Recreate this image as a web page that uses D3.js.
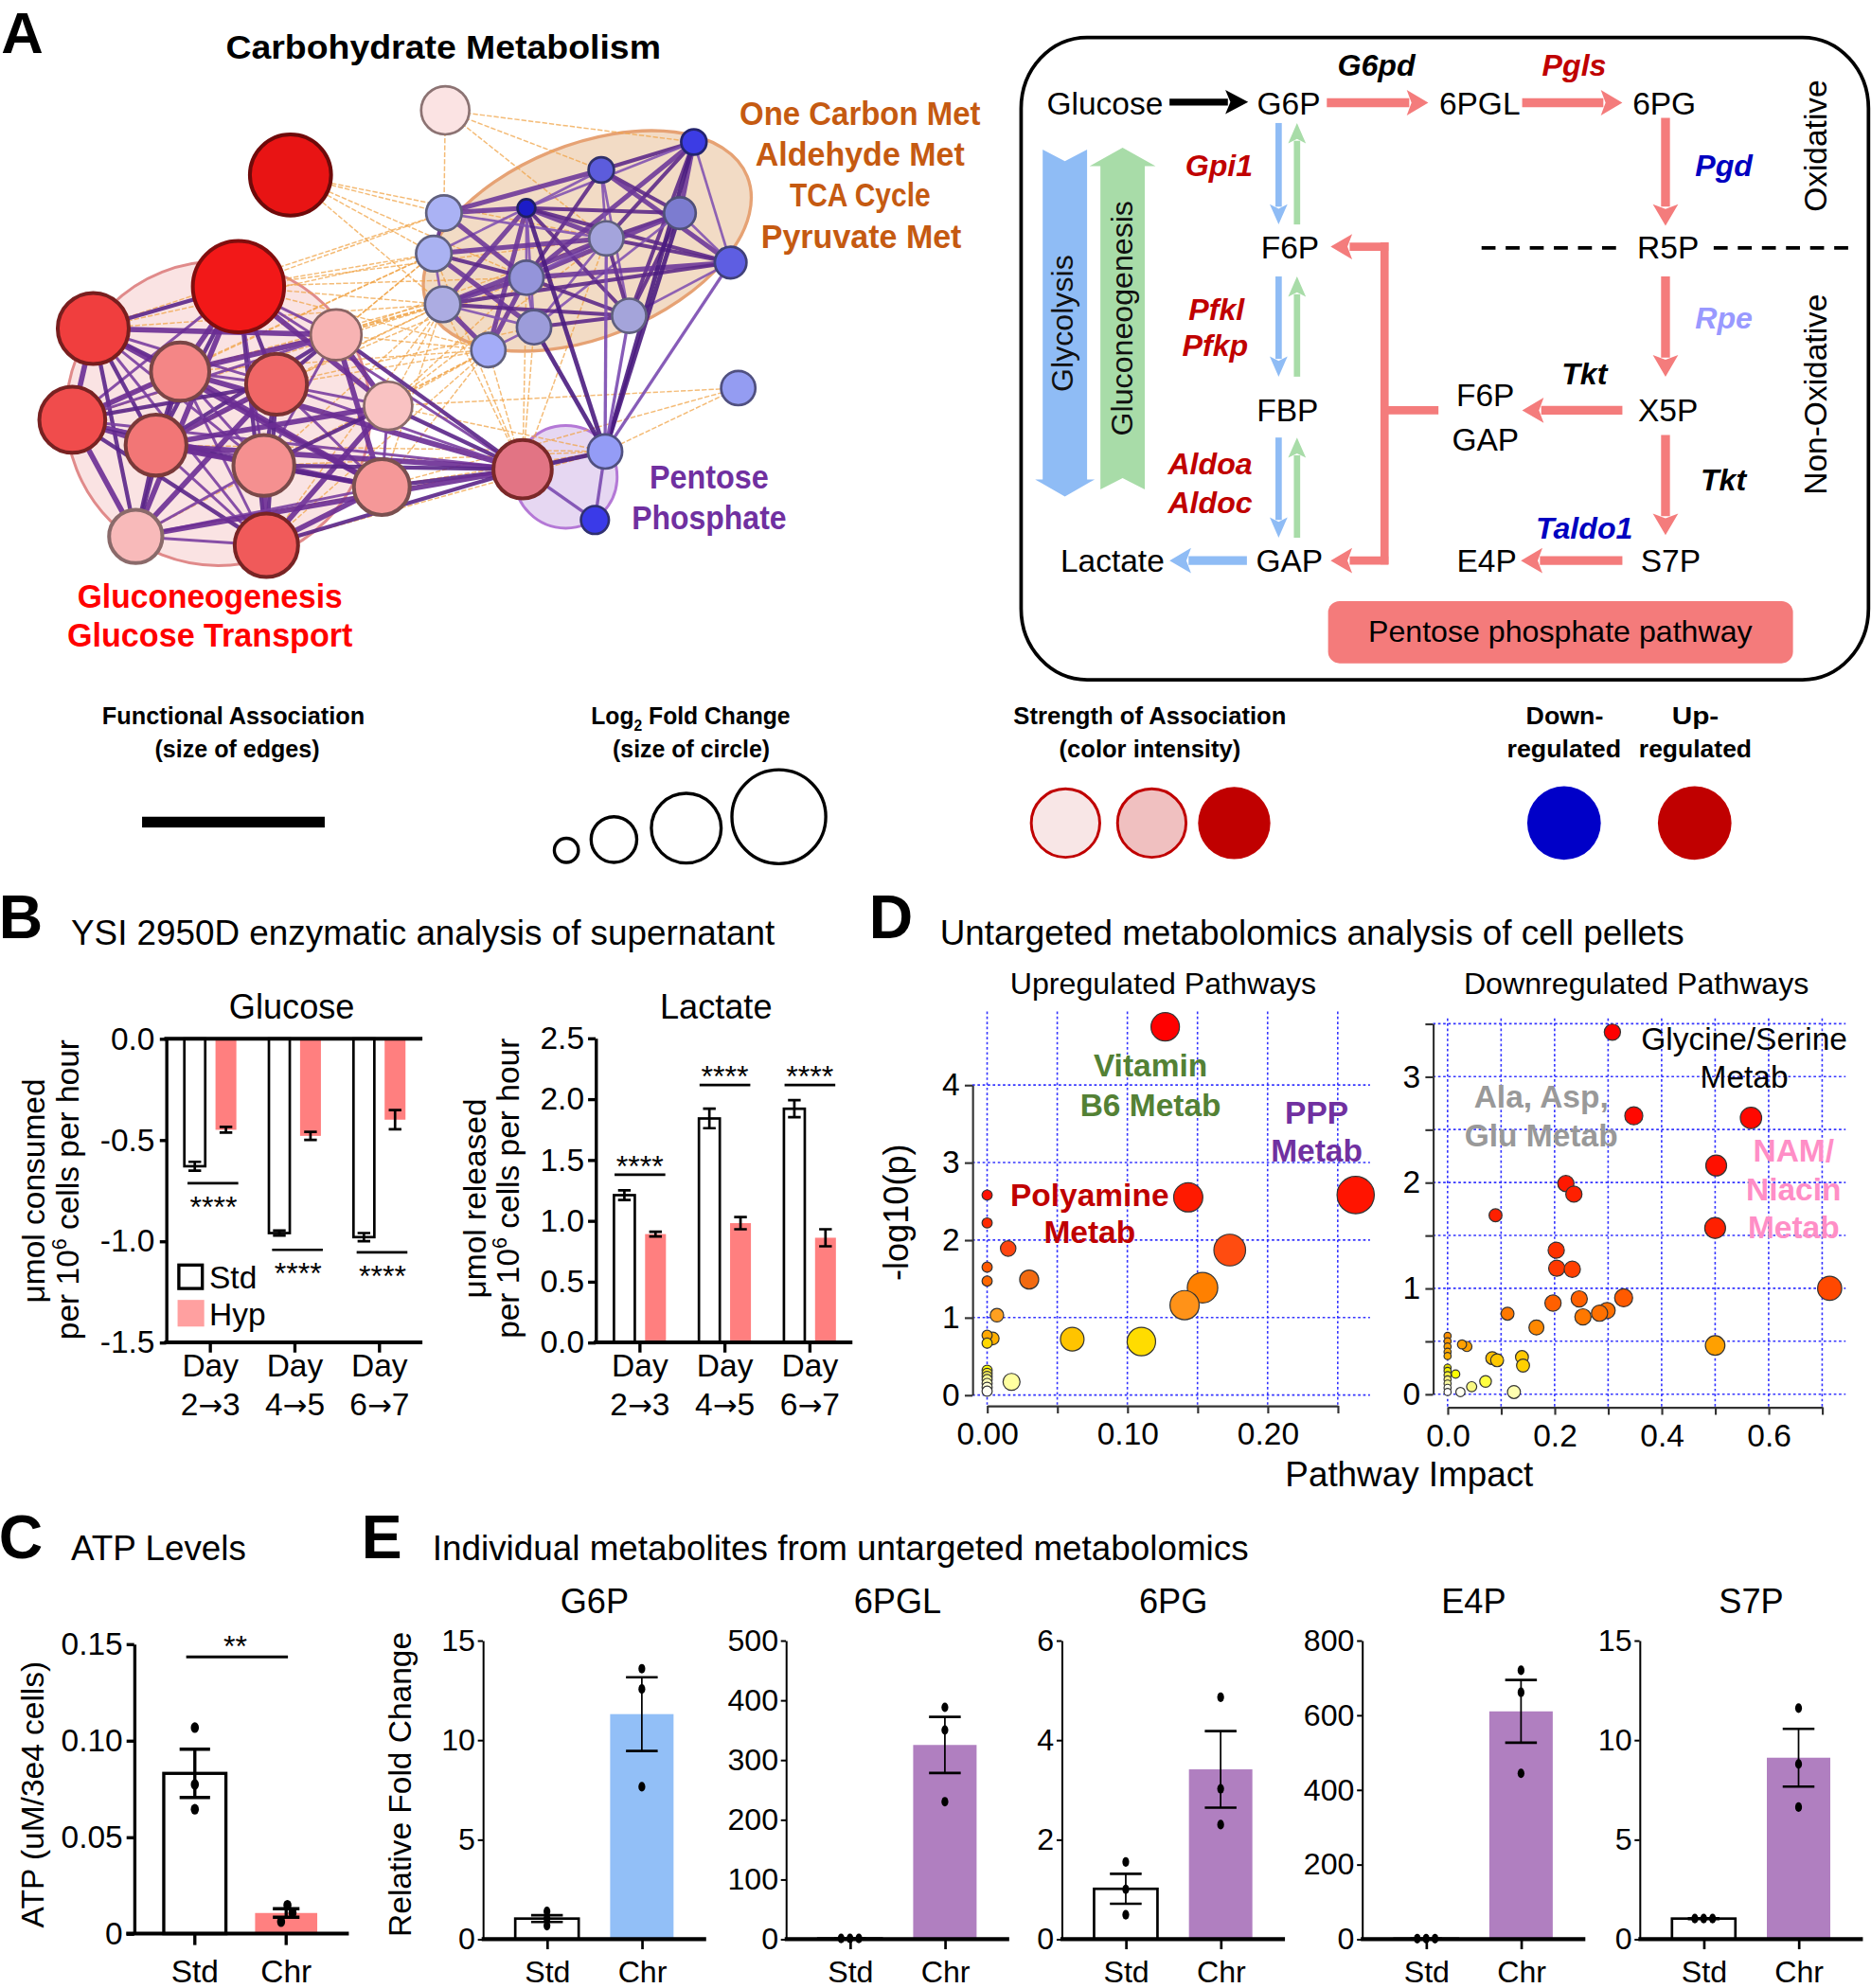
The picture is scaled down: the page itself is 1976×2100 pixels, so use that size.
<!DOCTYPE html>
<html>
<head>
<meta charset="utf-8">
<script src="https://cdn.jsdelivr.net/npm/d3@7/dist/d3.min.js"></script>
<style>
html,body{margin:0;padding:0;background:#fff;}
svg{display:block;}
</style>
</head>
<body>
<svg id="fig" width="1976" height="2100"></svg>
<script>
// ======================= DATA =======================
// Panel A – network nodes: [id, layoutX, layoutY, radius(log2FC), fill, stroke]
const netNodes = [
 [1,351,87,19,"#fbe3e3","#8c7373"],
 [2,229,138,32,"#e81414","#6e0a0a"],
 [3,188,226,36,"#f21818","#800e0e"],
 [4,73.5,259,28,"#f03e3e","#781e1e"],
 [5,265,264,20,"#f7b3b3","#8a6464"],
 [6,142,293,23,"#f48686","#7a4646"],
 [7,218,303,24,"#f06666","#7a3232"],
 [8,57,331,26,"#f04c4c","#782222"],
 [9,306,320,19,"#f9c2c2","#8a6a6a"],
 [10,123,351,24,"#f27676","#7a3a3a"],
 [11,208,367,24,"#f59090","#7a4a4a"],
 [12,301,384,22,"#f59898","#7a5050"],
 [13,107,423,21,"#f8baba","#8a6a6a"],
 [14,210,430,25,"#f05a5a","#782424"],
 [15,412,370,23,"#e27484","#7a2828"],
 [16,547,112,10,"#3c3ce4","#24246e"],
 [17,474,134,10,"#5c5cdc","#30306a"],
 [18,415,164,7,"#1c1cc8","#202060"],
 [19,350,168,14,"#aab2f4","#60607e"],
 [20,536,168,12.5,"#7c7cd0","#505078"],
 [21,342,200,14,"#aab2f2","#60607e"],
 [22,478,188,13.5,"#a4a4dc","#60607e"],
 [23,576,207,12.5,"#5e5ee2","#404078"],
 [24,415,219,13.5,"#9494da","#585880"],
 [25,349,240,14,"#acace2","#60607e"],
 [26,496,249,13.5,"#a4a4da","#60607e"],
 [27,421,258,13.5,"#9c9cda","#585880"],
 [28,385,276,13.5,"#a4acf8","#60607e"],
 [29,582,306,13.5,"#949cf2","#505080"],
 [30,477,356,13.5,"#949cf6","#505080"],
 [31,469,410,11,"#3a3ae8","#303070"]
];
const linksRedCluster = "3-4 3-5 3-6 3-7 3-8 3-9 3-10 3-11 3-13 3-14 3-15 4-5 4-6 4-7 4-8 4-10 4-11 4-12 4-13 4-14 5-6 5-7 5-8 5-9 5-10 5-11 5-12 5-15 6-7 6-8 6-10 6-11 6-12 6-13 6-14 6-15 7-8 7-9 7-10 7-11 7-12 7-13 7-14 7-15 8-10 8-11 8-12 8-13 8-14 8-15 9-10 9-11 9-12 9-14 9-15 10-11 10-12 10-13 10-14 10-15 11-12 11-13 11-14 11-15 12-13 12-14 12-15 13-14 13-15 14-15";
const linksBlueCluster = "16-17 16-18 16-20 16-22 16-23 16-24 16-26 17-18 17-19 17-20 17-22 17-23 17-24 17-26 18-19 18-20 18-21 18-22 18-23 18-24 18-25 18-26 18-27 18-28 19-21 19-22 19-24 20-22 20-23 20-24 20-26 20-27 21-22 21-24 21-25 21-27 22-23 22-24 22-25 22-26 22-27 23-24 23-25 23-26 24-25 24-26 24-27 24-28 25-26 25-27 25-28 26-27 27-28";
const linksBridge = "30-18 30-22 30-20 30-23 30-16 30-26 30-27 30-31 15-30 15-31";
const linksWeak = "2-19 2-21 2-25 2-24 2-22 1-19 1-17 1-22 1-16 3-21 3-25 3-28 3-19 3-24 3-22 5-21 5-25 5-28 5-24 5-22 7-25 7-24 7-21 7-27 9-25 9-28 9-24 9-30 9-22 9-29 6-25 6-21 6-28 6-24 10-30 10-25 11-28 11-25 11-30 12-30 12-25 12-28 12-29 13-28 13-30 14-30 14-28 14-25 15-21 15-25 15-24 15-28 15-27 15-22 4-21 4-25 4-19 8-25 8-28 8-21 29-30";

// Panel B – YSI supernatant analysis
const dayFrom = ["2","4","6"];
const dayTo = ["3","5","7"];
const days = ["2→3","4→5","6→7"];
const glucoseStd = [-0.63,-0.96,-0.98];
const glucoseStdErr = [0.022,0.012,0.02];
const glucoseHyp = [-0.45,-0.48,-0.40];
const glucoseHypErr = [0.014,0.02,0.047];
const glucoseSigLine = [-0.714,-1.043,-1.055];
const lactateStd = [1.21,1.84,1.92];
const lactateStdErr = [0.04,0.08,0.07];
const lactateHyp = [0.89,0.98,0.86];
const lactateHypErr = [0.02,0.05,0.07];
const lactateSigLine = [1.378,2.115,2.115];
const sigLabel = "****";

// Panel C – ATP levels
const atpGroups = ["Std","Chr"];
const atpMean = [0.083,0.0107];
const atpSem = [0.0125,0.0022];
const atpDots = [[0.1067,0.0773,0.0644],[0.0147,0.0108,0.0062]];
const atpTicks = [0,0.05,0.10,0.15];

// Panel D – pathway analysis: [impact, -log10(p), size, colour]
const upPathways = [
 [0.127,4.75,11.2,"#ff0000"],[0.1434,2.55,11.5,"#ff1a00"],[0.2628,2.58,14.7,"#ff1400"],
 [0.173,1.87,12.5,"#ff4c10"],[0.1536,1.385,12,"#ff8000"],[0.1408,1.16,11.5,"#ff9218"],
 [0.015,1.89,6.1,"#ff4510"],[0.030,1.49,7.5,"#f26a10"],[0.007,1.03,5.3,"#ffa020"],
 [0.0607,0.72,9.3,"#ffc400"],[0.110,0.69,11.2,"#ffdc00"],[0.0174,0.17,6.7,"#ffffa0"],
 [0,2.58,4,"#ff1000"],[0,2.22,4,"#ff2a00"],[0,1.65,4,"#ff5800"],[0,1.47,4,"#ff6800"],
 [0,0.77,4,"#ffa800"],[0.004,0.73,5,"#ffb000"],[0,0.67,4,"#ffd800"],[0,0.32,4,"#ffff00"],
 [0,0.28,4,"#ffee30"],[0,0.24,4,"#f4f060"],[0,0.2,4,"#f8f890"],[0,0.15,4,"#ffffb8"],
 [0,0.1,4,"#ffffd8"],[0,0.05,4,"#fffff4"]
];
const downPathways = [
 [0.308,3.42,6.4,"#ff0000"],[0.348,2.63,7.1,"#ff0800"],[0.567,2.61,8.4,"#ff0800"],
 [0.502,2.16,8.2,"#ff1000"],[0.500,1.57,8.2,"#ff2000"],[0.221,1.99,6.4,"#ff1800"],
 [0.236,1.89,6.4,"#ff2000"],[0.0896,1.69,5.1,"#ff2000"],[0.203,1.36,6.4,"#ff3000"],
 [0.204,1.19,6.4,"#ff3800"],[0.233,1.18,6.4,"#ff4000"],[0.714,1.00,9.5,"#ff4800"],
 [0.329,0.91,7.1,"#ff5a00"],[0.246,0.90,6.4,"#ff6000"],[0.197,0.86,6.4,"#ff6000"],
 [0.298,0.79,6.4,"#ff7000"],[0.284,0.765,6.4,"#ff7000"],[0.253,0.73,6.4,"#ff7800"],
 [0.112,0.76,5.1,"#ff7800"],[0.166,0.63,5.9,"#ff8800"],[0.500,0.46,7.7,"#ffa000"],
 [0.027,0.47,3.6,"#ffa000"],[0.036,0.45,4,"#ffa000"],[0.0835,0.34,5.1,"#ffc000"],
 [0.0926,0.32,5.1,"#ffc800"],[0.139,0.35,5.1,"#ffc800"],[0.141,0.27,5.1,"#ffd000"],
 [0.015,0.19,3.3,"#ffff00"],[0.071,0.12,4.6,"#ffff40"],[0.045,0.07,4,"#f8f880"],
 [0.124,0.02,5.1,"#ffffb0"],[0.024,0.02,3.6,"#fffff0"],
 [0,0.55,2.8,"#ff9000"],[0,0.5,2.8,"#ff9800"],[0,0.45,2.8,"#ffa000"],[0,0.4,2.8,"#ffa800"],
 [0,0.36,2.8,"#ffb000"],[0,0.25,2.8,"#e8e000"],[0,0.22,2.8,"#f0f000"],[0,0.18,2.8,"#f8f040"],
 [0,0.14,2.8,"#f8f080"],[0,0.1,2.8,"#f8f8a0"],[0,0.06,2.8,"#fffff0"],[0,0.02,2.8,"#ffffff"]
];
const upXTicks = [0,0.05,0.10,0.15,0.20,0.25];
const upYTicks = [0,1,2,3,4];
const downXTicks = [0,0.1,0.2,0.3,0.4,0.5,0.6,0.7];
const downYTicks = [0,0.5,1,1.5,2,2.5,3,3.5];

// Panel E – individual metabolites
const metabolites = ["G6P","6PGL","6PG","E4P","S7P"];
const metabMax = [15,500,6,800,15];
const metabTicks = [[0,5,10,15],[0,100,200,300,400,500],[0,2,4,6],[0,200,400,600,800],[0,5,10,15]];
const stdMean = [1.03,1,1.01,1,1.03];
const stdSem = [0.17,0.3,0.3,0.5,0.02];
const stdDots = [[1.39,1.03,0.68],[1,1,1],[1.55,1.0,0.49],[1,1,1],[1.03,1.03,1.03]];
const chrMean = [11.3,325,3.41,610,9.11];
const chrSem = [1.85,47,0.77,84,1.45];
const chrDots = [[13.58,12.56,7.65],[388,350,230],[4.86,3.02,2.30],[720,661,444],[11.6,8.79,6.63]];
const chrColors = ["#92bff7","#b07fc0","#b07fc0","#b07fc0","#b07fc0"];

// ======================= DRAWING =======================
const K = 1976/1475;
const FONT = "'Liberation Sans', Arial, Helvetica, sans-serif";
const svg = d3.select("#fig");
svg.append("rect").attr("width",1976).attr("height",2100).attr("fill","#fff");
const root = svg.append("g").attr("transform",`scale(${K})`).attr("font-family",FONT);

function T(g,x,y,s,o={}){
  const t = g.append("text").attr("x",x).attr("y",y)
    .attr("font-size",o.size||25).attr("text-anchor",o.anchor||"middle")
    .attr("fill",o.fill||"#000");
  if(s!==null) t.text(s);
  if(o.weight) t.attr("font-weight",o.weight);
  if(o.style) t.attr("font-style",o.style);
  if(o.len) t.attr("textLength",o.len).attr("lengthAdjust","spacingAndGlyphs");
  if(o.rot) t.attr("transform",`rotate(${o.rot},${x},${y})`);
  if(o.family) t.attr("font-family",o.family);
  return t;
}
function arrow(g,x1,y1,x2,y2,col,w,hl,hw){
  const dx=x2-x1, dy=y2-y1, L=Math.hypot(dx,dy), ux=dx/L, uy=dy/L, px=-uy, py=ux;
  const bx=x2-ux*hl, by=y2-uy*hl;
  g.append("line").attr("x1",x1).attr("y1",y1).attr("x2",bx+ux*2).attr("y2",by+uy*2)
    .attr("stroke",col).attr("stroke-width",w);
  const nx=bx+ux*hl*0.22, ny=by+uy*hl*0.22;
  g.append("path").attr("d",`M${x2},${y2}L${bx+px*hw/2},${by+py*hw/2}L${nx},${ny}L${bx-px*hw/2},${by-py*hw/2}Z`).attr("fill",col);
}
function styleAxis(g,fs,sw,col){
  g.attr("font-family",FONT).attr("font-size",fs);
  g.selectAll("text").attr("fill","#000");
  g.selectAll("path,line").attr("stroke",col||"#000").attr("stroke-width",sw);
}
const panelLetter = (x,y,s,fs)=>T(root,x,y,s,{size:fs||48,weight:"bold",anchor:"start"});

// ---------------- PANEL A : network ----------------
const gA = root.append("g");
panelLetter(1,42,"A",46);
T(gA,349.5,46.5,"Carbohydrate Metabolism",{size:26,weight:"bold",len:343});

const nodeById = new Map(netNodes.map(n=>[n[0],n]));
const parse = s=>s.trim().split(/\s+/).map(p=>p.split("-").map(Number));
gA.append("circle").attr("cx",172).attr("cy",326).attr("r",120)
  .attr("fill","rgba(244,188,188,0.42)").attr("stroke","#e08a8a").attr("stroke-width",2.2);
gA.append("ellipse").attr("cx",463).attr("cy",190).attr("rx",136).attr("ry",76)
  .attr("transform","rotate(-22,463,190)")
  .attr("fill","rgba(230,184,140,0.5)").attr("stroke","#e6a274").attr("stroke-width",2.5);
gA.append("circle").attr("cx",446).attr("cy",376).attr("r",40.5)
  .attr("fill","rgba(214,188,234,0.6)").attr("stroke","#b478d6").attr("stroke-width",2.2);

const drawLinks=(str,col,wfn,op,dash)=>{
  parse(str).forEach((p,i)=>{
    const a=nodeById.get(p[0]), b=nodeById.get(p[1]);
    const l=gA.append("line").attr("x1",a[1]).attr("y1",a[2]).attr("x2",b[1]).attr("y2",b[2])
      .attr("stroke",col(i)).attr("stroke-width",wfn(i)).attr("stroke-opacity",op);
    if(dash) l.attr("stroke-dasharray",dash);
  });
};
drawLinks(linksWeak,()=>"#f0a448",()=>1.1,0.75,"4,1.5");
drawLinks(linksRedCluster,i=>["#5a2588","#7a3ea0","#6a2c94"][i%3],i=>[3.2,2.2,4.2][i%3],0.9);
drawLinks(linksBlueCluster,i=>["#5a2588","#8050b0","#6a3498"][i%3],i=>[3,2,3.8][i%3],0.88);
drawLinks(linksBridge,i=>["#4a1c80","#7a4ab0"][i%2],i=>[3.5,2.5][i%2],0.9);

gA.selectAll("circle.node").data(netNodes).join("circle").attr("class","node")
  .attr("cx",d=>d[1]).attr("cy",d=>d[2]).attr("r",d=>d[3])
  .attr("fill",d=>d[4]).attr("stroke",d=>d[5]).attr("stroke-width",d=>d[3]>20?3:2);

T(gA,678,98.5,"One Carbon Met",{size:26,weight:"bold",fill:"#c55a11",len:190});
T(gA,678,130.5,"Aldehyde Met",{size:26,weight:"bold",fill:"#c55a11",len:165});
T(gA,678,162.5,"TCA Cycle",{size:26,weight:"bold",fill:"#c55a11",len:111});
T(gA,679,195.5,"Pyruvate Met",{size:26,weight:"bold",fill:"#c55a11",len:158});
T(gA,559,385.5,"Pentose",{size:26,weight:"bold",fill:"#7030a0",len:94});
T(gA,559,417,"Phosphate",{size:26,weight:"bold",fill:"#7030a0",len:122});
T(gA,165.5,479,"Gluconeogenesis",{size:26,weight:"bold",fill:"#ff0000",len:209});
T(gA,165.5,510,"Glucose Transport",{size:26,weight:"bold",fill:"#ff0000",len:225});

// ---------------- PANEL A : pathway box ----------------
const gP = root.append("g");
gP.append("rect").attr("x",805).attr("y",29.5).attr("width",668).attr("height",506.5)
  .attr("rx",52).attr("ry",56).attr("fill","none").attr("stroke","#000").attr("stroke-width",2.8);
const PINK="#f47c7c", BLUE="#8fbcf5", GREEN="#a8dca8";
gP.append("path").attr("d","M822,118L839.5,127L857,118L857,378L863,378L839.5,391.5L816,378L822,378Z").attr("fill",BLUE);
gP.append("path").attr("d","M885,116.5L911,131L902.5,131L902.5,386L885,377L867.5,386L867.5,131L859,131Z").attr("fill",GREEN);
T(gP,846,255,"Glycolysis",{size:24,rot:-90,fill:"#111"});
T(gP,893,251,"Gluconeogenesis",{size:24,rot:-90,fill:"#111"});
arrow(gP,922,80.5,984,80.5,"#000",5.5,18,19);
arrow(gP,1046,81,1126,81,PINK,7,17,20);
arrow(gP,1200,81,1279,81,PINK,7,17,20);
arrow(gP,1313,93,1313,178,PINK,7,17,20);
arrow(gP,1313,218,1313,297,PINK,7,17,20);
arrow(gP,1279,323.5,1200,323.5,PINK,7,17,20);
arrow(gP,1313,343,1313,422,PINK,7,17,20);
arrow(gP,1279,442,1199,442,PINK,7,17,20);
gP.append("path").attr("d","M1134,323.5H1091.5M1091.5,191V445").attr("stroke",PINK).attr("stroke-width",6.5).attr("fill","none");
arrow(gP,1094.5,194.5,1049,194.5,PINK,6.5,17,20);
arrow(gP,1094.5,442,1049,442,PINK,6.5,17,20);
arrow(gP,983,442,922,442,BLUE,7,17,20);
[[97,177],[218,297],[345,424]].forEach(([a,b])=>{
  arrow(gP,1008,a,1008,b,BLUE,5,16,14);
  arrow(gP,1022.5,b,1022.5,a,GREEN,5,16,14);
});
gP.append("path").attr("d","M1168,195.5H1277M1351,195.5H1461").attr("stroke","#000")
  .attr("stroke-width",2.8).attr("stroke-dasharray","11,8");
[["Glucose",871,90],["G6P",1016,90],["6PGL",1166.5,90],["6PG",1312,90],
 ["F6P",1017,204],["R5P",1315,204],["FBP",1015,332.5],["X5P",1315,332.5],
 ["F6P",1171,320],["GAP",1171,355],["GAP",1016.5,451],["Lactate",877,451],
 ["E4P",1172,451],["S7P",1317,451]].forEach(([s,x,y])=>T(gP,x,y,s,{size:25}));
[["G6pd",1085,60,"#000"],["Pgls",1241,60,"#c00000"],["Gpi1",961,139,"#c00000"],
 ["Pgd",1359,139,"#0000c0"],["Pfkl",959,252,"#c00000"],["Pfkp",958,281,"#c00000"],
 ["Rpe",1359,259,"#9999ff"],["Tkt",1249,303,"#000"],["Aldoa",954,374,"#c00000"],
 ["Aldoc",954,404.5,"#c00000"],["Tkt",1358.6,387,"#000"],["Taldo1",1249,424.6,"#0000c0"]]
 .forEach(([s,x,y,c])=>T(gP,x,y,s,{size:24,weight:"bold",style:"italic",fill:c}));
T(gP,1440,115,"Oxidative",{size:25,rot:-90});
T(gP,1440,311,"Non-Oxidative",{size:25,rot:-90});
gP.append("rect").attr("x",1047).attr("y",474).attr("width",366.5).attr("height",49)
  .attr("rx",9).attr("fill","#f47b7b");
T(gP,1230,506,"Pentose phosphate pathway",{size:24});

// ---------------- PANEL A : legend ----------------
const gL = root.append("g");
const legT=(x,y,s,len)=>T(gL,x,y,s,{size:19,weight:"bold",len:len});
legT(184,571,"Functional Association",207);
legT(187,597,"(size of edges)",130);
const lf = T(gL,544.5,571,null,{size:19,weight:"bold"});
lf.append("tspan").text("Log");
lf.append("tspan").attr("font-size",12).attr("dy",5).text("2");
lf.append("tspan").attr("dy",-5).text(" Fold Change");
lf.attr("textLength",157).attr("lengthAdjust","spacingAndGlyphs");
legT(545,597,"(size of circle)",124);
legT(906.5,571,"Strength of Association",215);
legT(906.5,597,"(color intensity)",143);
legT(1233.5,571,"Down-",61);
legT(1233,597,"regulated",90);
legT(1336.5,571,"Up-",37);
legT(1336.5,597,"regulated",89);
gL.append("rect").attr("x",112).attr("y",644).attr("width",144).attr("height",8.5).attr("fill","#000");
[[446.5,670.5,9.5],[484,662,18],[541,653,27.5],[614,644,37]].forEach(([x,y,r])=>
  gL.append("circle").attr("cx",x).attr("cy",y).attr("r",r).attr("fill","none").attr("stroke","#000").attr("stroke-width",2.5));
[[840,649,"#f8e6e6"],[908,649,"#f0c0c0"]].forEach(([x,y,c])=>
  gL.append("circle").attr("cx",x).attr("cy",y).attr("r",27).attr("fill",c).attr("stroke","#c00000").attr("stroke-width",2.2));
gL.append("circle").attr("cx",973).attr("cy",649).attr("r",28.5).attr("fill","#c00000");
gL.append("circle").attr("cx",1233).attr("cy",649).attr("r",29).attr("fill","#0000c8");
gL.append("circle").attr("cx",1336).attr("cy",649).attr("r",29).attr("fill","#c00000");

// ---------------- PANEL B ----------------
const gB = root.append("g");
panelLetter(-1,740,"B");
T(gB,56,745,"YSI 2950D enzymatic analysis of supernatant",{size:27.5,anchor:"start"});
T(gB,230,803,"Glucose",{size:27});
T(gB,564.5,803,"Lactate",{size:27});
const sub = d3.scaleBand().domain(["Std","Hyp"]).range([-20.5,20.5]).paddingInner(0.33);
const HYP="#ff7f7f";
function yTitle2(g,x1,x2,yc1,yc2,l1){
  T(g,x1,yc1,l1,{size:25,rot:-90});
  const t=T(g,x2,yc2,null,{size:25,rot:-90});
  t.append("tspan").text("per 10");
  t.append("tspan").attr("font-size",16).attr("dy",-10).text("6");
  t.append("tspan").attr("dy",10).text(" cells per hour");
}
function groupBars(g,x,y,stdV,stdE,hypV,hypE){
  days.forEach((d,i)=>{
    const c=x(d)+x.bandwidth()/2, bw=sub.bandwidth();
    const y0=y(0);
    const ys=y(stdV[i]), yh=y(hypV[i]);
    g.append("rect").attr("x",c+sub("Hyp")).attr("y",Math.min(y0,yh)).attr("width",bw).attr("height",Math.abs(yh-y0)).attr("fill",HYP);
    g.append("rect").attr("x",c+sub("Std")).attr("y",Math.min(y0,ys)).attr("width",bw).attr("height",Math.abs(ys-y0))
      .attr("fill","#fff").attr("stroke","#000").attr("stroke-width",2);
    [[c+sub("Std")+bw/2,stdV[i],stdE[i]],[c+sub("Hyp")+bw/2,hypV[i],hypE[i]]].forEach(([cx,v,e])=>{
      const a=y(v-e), b=y(v+e);
      g.append("path").attr("d",`M${cx},${a}V${b}M${cx-5},${a}H${cx+5}M${cx-5},${b}H${cx+5}`)
        .attr("stroke","#000").attr("stroke-width",2).attr("fill","none");
    });
  });
}
function dayLabels(g,x,yb){
  days.forEach((d,i)=>{
    const c=x(d)+x.bandwidth()/2;
    T(g,c,yb+27,"Day",{size:25});
    const t=T(g,c,yb+57.5,null,{size:25});
    t.append("tspan").text(dayFrom[i]);
    t.append("tspan").attr("font-family","'DejaVu Sans', sans-serif").attr("font-size",23).text("→");
    t.append("tspan").text(dayTo[i]);
  });
}
// Glucose
const yG = d3.scaleLinear().domain([0,-1.5]).range([819,1058.5]);
const xG = d3.scaleBand().domain(days).range([132.5,332.5]);
groupBars(gB,xG,yG,glucoseStd,glucoseStdErr,glucoseHyp,glucoseHypErr);
const axG = gB.append("g").attr("transform","translate(131,0)")
  .call(d3.axisLeft(yG).tickValues([0,-0.5,-1,-1.5]).tickFormat(d=>d.toFixed(1)).tickSize(5).tickPadding(4).tickSizeOuter(0));
styleAxis(axG,25,2.5);
gB.append("line").attr("x1",129.5).attr("x2",333).attr("y1",yG(0)).attr("y2",yG(0)).attr("stroke","#000").attr("stroke-width",3);
const axGb = gB.append("g").attr("transform",`translate(0,${yG(-1.5)})`)
  .call(d3.axisBottom(xG).tickSize(8).tickSizeOuter(0).tickFormat(""));
styleAxis(axGb,25,2.5);
axGb.select(".domain").attr("d","M129.5,0H333").attr("stroke-width",3);
dayLabels(gB,xG,yG(-1.5));
days.forEach((d,i)=>{
  const c=xG(d)+xG.bandwidth()/2, yl=yG(glucoseSigLine[i]);
  gB.append("line").attr("x1",c-18).attr("x2",c+22).attr("y1",yl).attr("y2",yl).attr("stroke","#000").attr("stroke-width",2);
  T(gB,c+2.5,yl+27,sigLabel,{size:24});
});
gB.append("rect").attr("x",141).attr("y",997.5).attr("width",18.5).attr("height",18.5).attr("fill","#fff").attr("stroke","#000").attr("stroke-width",2.5);
gB.append("rect").attr("x",140).attr("y",1025).attr("width",21).attr("height",21).attr("fill","#ffa0a0");
T(gB,165,1016,"Std",{size:25,anchor:"start"});
T(gB,165,1045,"Hyp",{size:25,anchor:"start"});
yTitle2(gB,35,62,939,938,"μmol consumed");
// Lactate
const yL = d3.scaleLinear().domain([0,2.5]).range([1058.5,818.6]);
const xL = d3.scaleBand().domain(days).range([471,672]);
groupBars(gB,xL,yL,lactateStd,lactateStdErr,lactateHyp,lactateHypErr);
const axL = gB.append("g").attr("transform","translate(469.6,0)")
  .call(d3.axisLeft(yL).tickValues([0,0.5,1,1.5,2,2.5]).tickFormat(d=>d.toFixed(1)).tickSize(6).tickPadding(3).tickSizeOuter(0));
styleAxis(axL,25,2.5);
const axLb = gB.append("g").attr("transform",`translate(0,${yL(0)})`)
  .call(d3.axisBottom(xL).tickSize(8).tickSizeOuter(0).tickFormat(""));
styleAxis(axLb,25,2.5);
axLb.select(".domain").attr("d","M468,0H672").attr("stroke-width",3);
dayLabels(gB,xL,yL(0));
days.forEach((d,i)=>{
  const c=xL(d)+xL.bandwidth()/2, yl=yL(lactateSigLine[i]);
  gB.append("line").attr("x1",c-20).attr("x2",c+20).attr("y1",yl).attr("y2",yl).attr("stroke","#000").attr("stroke-width",2);
  T(gB,c,yl+1.5,sigLabel,{size:24});
});
yTitle2(gB,383,409,945,937,"μmol released");

// ---------------- PANEL C ----------------
const gC = root.append("g");
panelLetter(-1,1229,"C");
T(gC,56,1230,"ATP Levels",{size:27.5,anchor:"start"});
const yC = d3.scaleLinear().domain([0,0.15]).range([1524.7,1296.3]);
const xC = d3.scaleBand().domain(atpGroups).range([117.6,261.6]);
const cC = g=>xC(g)+xC.bandwidth()/2;
atpGroups.forEach((g,i)=>{
  const c=cC(g), bw=49;
  const r=gC.append("rect").attr("x",c-bw/2).attr("y",yC(atpMean[i])).attr("width",bw).attr("height",yC(0)-yC(atpMean[i]));
  if(i===0) r.attr("fill","#fff").attr("stroke","#000").attr("stroke-width",2.5);
  else r.attr("fill","#ff8080");
});
const axC = gC.append("g").attr("transform","translate(105.8,0)")
  .call(d3.axisLeft(yC).tickValues(atpTicks).tickFormat(d=>d===0?"0":d.toFixed(2)).tickSize(6).tickPadding(3).tickSizeOuter(0));
styleAxis(axC,25,2.5);
const axCb = gC.append("g").attr("transform",`translate(0,${yC(0)})`)
  .call(d3.axisBottom(xC).tickSize(9).tickPadding(12).tickSizeOuter(0));
styleAxis(axCb,25,2.5);
axCb.select(".domain").attr("d","M99.5,0H275").attr("stroke-width",3);
const atpJit=[[0,0,0],[1,5,-4]];
atpGroups.forEach((g,i)=>{
  const c=cC(g), hw=i===0?12:10.5;
  const a=yC(atpMean[i]-atpSem[i]), b=yC(atpMean[i]+atpSem[i]);
  gC.append("path").attr("d",`M${c},${a}V${b}M${c-hw},${a}H${c+hw}M${c-hw},${b}H${c+hw}`).attr("stroke","#000").attr("stroke-width",2.5).attr("fill","none");
  atpDots[i].forEach((v,j)=>gC.append("ellipse").attr("cx",c+atpJit[i][j]).attr("cy",yC(v)).attr("rx",3.2).attr("ry",4.2).attr("fill","#000"));
});
gC.append("line").attr("x1",146.8).attr("x2",227).attr("y1",1306.5).attr("y2",1306.5).attr("stroke","#000").attr("stroke-width",2.2);
T(gC,185.5,1306,"**",{size:24});
T(gC,34,1415,"ATP (uM/3e4 cells)",{size:25,rot:-90});

// ---------------- PANEL D ----------------
const gD = root.append("g");
panelLetter(685,740,"D");
T(gD,741,745,"Untargeted metabolomics analysis of cell pellets",{size:27.5,anchor:"start"});
T(gD,917,784,"Upregulated Pathways",{size:24});
T(gD,1290,784,"Downregulated Pathways",{size:24});
const GRID="#3535ff";
function bubblePlot(g,pts,x,y,xTicks,yTicks,ax,ayX,gridRight,gridTop,xLab,yLab){
  yTicks.forEach(t=>g.append("line").attr("x1",ayX).attr("x2",gridRight).attr("y1",y(t)).attr("y2",y(t))
    .attr("stroke",GRID).attr("stroke-width",1.2).attr("stroke-dasharray","2,2"));
  xTicks.forEach(t=>g.append("line").attr("x1",x(t)).attr("x2",x(t)).attr("y1",gridTop).attr("y2",ax)
    .attr("stroke",GRID).attr("stroke-width",1.2).attr("stroke-dasharray","2,2"));
  const a1=g.append("g").attr("transform",`translate(${ayX},0)`)
    .call(d3.axisLeft(y).tickValues(yTicks).tickFormat(yLab).tickSize(6).tickPadding(4).tickSizeOuter(0));
  styleAxis(a1,25,1.6,"#333");
  const a2=g.append("g").attr("transform",`translate(0,${ax})`)
    .call(d3.axisBottom(x).tickValues(xTicks).tickFormat(xLab).tickSize(6).tickPadding(7).tickSizeOuter(0));
  styleAxis(a2,25,1.6,"#333");
  const sorted=pts.slice().sort((p,q)=>q[2]-p[2]);
  g.selectAll(null).data(sorted).join("circle")
    .attr("cx",d=>x(d[0])).attr("cy",d=>y(d[1])).attr("r",d=>d[2])
    .attr("fill",d=>d[3]).attr("stroke","#333").attr("stroke-width",0.9);
}
const xUp = d3.scaleLinear().domain([0,0.25]).range([778.2,1054.6]);
const yUp = d3.scaleLinear().domain([0,4]).range([1100,855.5]);
bubblePlot(gD,upPathways,xUp,yUp,upXTicks,upYTicks,1108.5,766.6,xUp(0.273),797.6,
  d=>Math.round(d*100)%10===0?d.toFixed(2):"", d=>d);
const xDn = d3.scaleLinear().domain([0,0.7]).range([1141.2,1436.5]);
const yDn = d3.scaleLinear().domain([0,3.5]).range([1099.3,807.2]);
bubblePlot(gD,downPathways,xDn,yDn,downXTicks,downYTicks,1109.6,1129.7,1455,803,
  d=>Math.round(d*10)%2===0?d.toFixed(1):"", d=>Number.isInteger(d)?d:"");
T(gD,907,849,"Vitamin",{size:25,weight:"bold",fill:"#538135"});
T(gD,907,880,"B6 Metab",{size:25,weight:"bold",fill:"#538135"});
T(gD,1038,886,"PPP",{size:25,weight:"bold",fill:"#7030a0"});
T(gD,1038,916,"Metab",{size:25,weight:"bold",fill:"#7030a0"});
T(gD,859,951,"Polyamine",{size:25,weight:"bold",fill:"#c00000"});
T(gD,859,980,"Metab",{size:25,weight:"bold",fill:"#c00000"});
T(gD,1375,828,"Glycine/Serine",{size:25});
T(gD,1375,858,"Metab",{size:25});
T(gD,1215,873,"Ala, Asp,",{size:25,weight:"bold",fill:"#999"});
T(gD,1215,904,"Glu Metab",{size:25,weight:"bold",fill:"#999"});
T(gD,1414,916,"NAM/",{size:25,weight:"bold",fill:"#ff8ec6"});
T(gD,1414,946.5,"Niacin",{size:25,weight:"bold",fill:"#ff8ec6"});
T(gD,1414,976,"Metab",{size:25,weight:"bold",fill:"#ff8ec6"});
T(gD,1111,1172,"Pathway Impact",{size:27.5});
T(gD,716,956,"-log10(p)",{size:27,rot:-90});

// ---------------- PANEL E ----------------
const gE = root.append("g");
panelLetter(285,1229,"E");
T(gE,341,1230,"Individual metabolites from untargeted metabolomics",{size:27.5,anchor:"start"});
T(gE,324,1407,"Relative Fold Change",{size:25,rot:-90});
const eAxisX=[380.7,619.6,837,1073.8,1292.6];
const eStdJit=[[0,0,0],[-7,0,7],[0,0,0],[-7,0,7],[-7,0,7]];
metabolites.forEach((m,i)=>{
  const x0=eAxisX[i];
  const y=d3.scaleLinear().domain([0,metabMax[i]]).range([1529,1293.5]);
  const x=d3.scalePoint().domain(["Std","Chr"]).range([x0+50.5,x0+125.3]);
  const g=gE.append("g");
  const bw=50;
  g.append("rect").attr("x",x("Chr")-bw/2).attr("y",y(chrMean[i])).attr("width",bw).attr("height",y(0)-y(chrMean[i])).attr("fill",chrColors[i]);
  g.append("rect").attr("x",x("Std")-bw/2).attr("y",y(stdMean[i])).attr("width",bw).attr("height",Math.max(0,y(0)-y(stdMean[i])))
    .attr("fill","#fff").attr("stroke","#000").attr("stroke-width",2);
  const a1=g.append("g").attr("transform",`translate(${x0},0)`)
    .call(d3.axisLeft(y).tickValues(metabTicks[i]).tickFormat(d=>String(d)).tickSize(4).tickPadding(2).tickSizeOuter(0));
  styleAxis(a1,24,1.5);
  const a2=g.append("g").attr("transform",`translate(0,${y(0)})`)
    .call(d3.axisBottom(x).tickSize(8).tickPadding(9).tickSizeOuter(0));
  styleAxis(a2,24,2);
  a2.select(".domain").attr("d",`M${x0-1},0H${x0+176}`).attr("stroke-width",3.2);
  [["Std",stdMean[i],stdSem[i],stdDots[i],eStdJit[i]],["Chr",chrMean[i],chrSem[i],chrDots[i],[0,0,0]]].forEach(([k,mv,se,dots,jit])=>{
    const c=x(k), a=y(mv-se), b=y(mv+se);
    g.append("path").attr("d",`M${c},${a}V${b}`).attr("stroke","#000").attr("stroke-width",1.3).attr("fill","none");
    g.append("path").attr("d",`M${c-12.5},${a}H${c+12.5}M${c-12.5},${b}H${c+12.5}`).attr("stroke","#000").attr("stroke-width",2);
    dots.forEach((v,j)=>g.append("ellipse").attr("cx",c+jit[j]).attr("cy",y(v)).attr("rx",2.7).attr("ry",3.8).attr("fill","#000"));
  });
  T(g,x0+88,1272,m,{size:27});
});
</script>
</body>
</html>
